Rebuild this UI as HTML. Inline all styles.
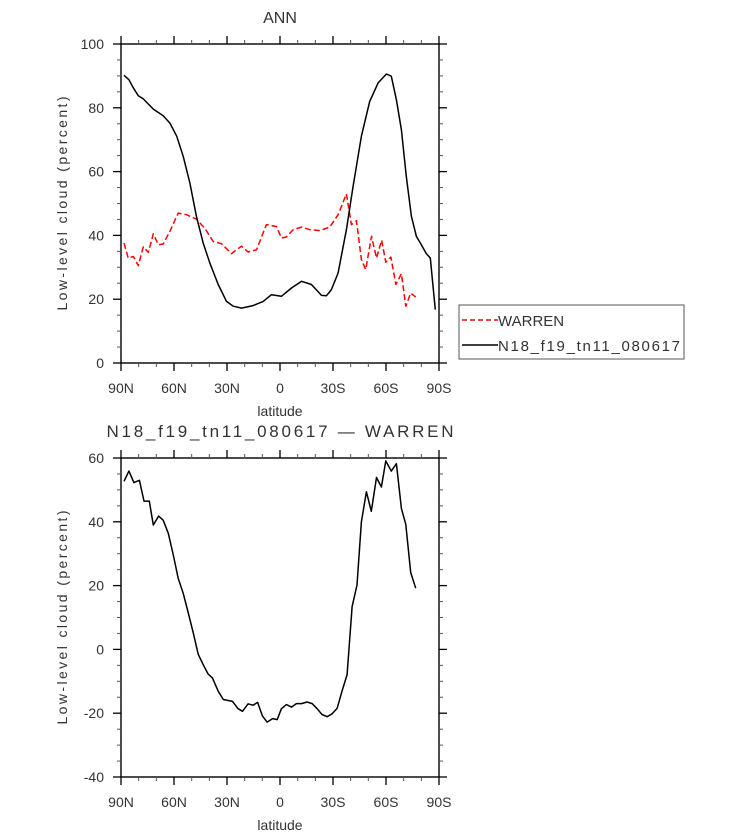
<!DOCTYPE html>
<html><head><meta charset="utf-8">
<style>
html,body{margin:0;padding:0;background:#fff;}
svg{display:block;font-family:"Liberation Sans",sans-serif;}
</style></head>
<body>
<svg id="chart" width="733" height="835" viewBox="0 0 733 835">
<g id="top"></g>
<g id="bot"></g>
</svg>
<script>
// ---- data ----
const xTickLabels = ["90N","60N","30N","0","30S","60S","90S"];
const xTickValues = [90,60,30,0,-30,-60,-90];
const topYTicks = [0,20,40,60,80,100];
const botYTicks = [-40,-20,0,20,40,60];

const modelLat = [88.3,85.5,83,80.2,77.4,71.7,66.1,62.3,58.5,54.8,51,47.3,43.5,39.7,35,30.3,26.5,21.8,15.2,9.5,4.8,-0.8,-6.5,-12.2,-17.8,-23.5,-26.3,-29.1,-32.9,-37.6,-41.4,-46.1,-50.8,-55.5,-60.2,-63,-65.9,-68.7,-71.5,-74.4,-77.2,-80,-82.8,-85.1,-87.9];
const modelVal = [90.2,88.8,86.2,83.8,82.8,79.6,77.5,75.2,71.1,64.8,56.4,46,37.6,31.3,24.6,19.3,17.8,17.2,18,19.3,21.4,20.9,23.5,25.6,24.6,21.2,21.1,23,28.2,41.8,55.4,71.1,82,87.8,90.6,89.9,82.5,73.1,58.5,46,39.7,37.1,34.3,32.9,16.7];

const obsLat = [88.3,85.9,83,80.2,77.4,74.5,71.7,68.9,66.1,62.3,57.6,52.9,47.3,42.6,37.8,33.1,27.5,21.8,18.1,13.3,7.7,2,-0.8,-3.6,-7.4,-12.2,-16.9,-22.5,-28.2,-32.9,-37.6,-40.4,-43.3,-46.1,-48.5,-51.8,-54.6,-57.5,-59.9,-62.8,-65.6,-68.7,-71.2,-74,-76.8];
const obsVal = [37.6,32.9,33.4,30.5,36.4,34.7,40.5,37.1,37.3,41.3,47,46.5,45.1,42.3,38.1,37.4,34.3,36.6,34.8,35.5,43.4,42.8,39.2,39.5,41.8,42.6,41.8,41.5,42.6,46.5,53,43.4,44.6,32.4,29.3,39.7,32.9,38.5,31.6,33.2,24.6,28,17.8,21.9,20.7];

const diffLat = [88.3,85.5,82.7,79.6,77,74,71.7,68.7,66.1,63.2,60.4,57.6,54.8,51.9,49.1,46.3,43.5,40.7,38.2,35,32.1,26.9,23.7,21.2,18.1,15.2,12.7,9.9,7.3,4.2,1.6,-0.8,-3.6,-6.5,-9.3,-12.2,-15.3,-18.2,-21,-23.8,-26.7,-29.5,-32.3,-35.1,-38,-40.8,-43.6,-46.1,-48.9,-51.7,-54.6,-57.4,-59.9,-63,-65.9,-68.7,-71.2,-74,-76.8];
const diffVal = [52.7,55.9,52.3,53,46.5,46.5,39,41.8,40.5,36.4,29.6,22.3,17.6,11.4,5.1,-1.5,-4.8,-7.7,-9,-13.1,-15.7,-16.3,-18.6,-19.4,-17.1,-17.5,-16.6,-20.9,-22.8,-21.7,-22,-18.6,-17.3,-18.1,-17,-17,-16.5,-17,-18.6,-20.4,-21.1,-20.2,-18.5,-13.1,-7.9,13.4,20.2,40,49.4,43.3,53.9,50.9,59.1,55.9,58.2,44.2,39.2,24.1,19.2];

const NS = "http://www.w3.org/2000/svg";
function mk(parent, tag, attrs){ const e=document.createElementNS(NS,tag); for(const k in attrs) e.setAttribute(k,attrs[k]); parent.appendChild(e); return e; }

function panel(g, top, bottom, ymin, ymax, yTicks, minorStep){
  const L=121, R=439;
  const xs = lat => L + (90-lat)*(R-L)/180;
  const ys = v => bottom - (v-ymin)*(bottom-top)/(ymax-ymin);
  const frame = mk(g,'rect',{x:L,y:top,width:R-L,height:bottom-top,fill:'none',stroke:'#000','stroke-width':1.4});
  
  
  for(let lat=90; lat>=-90; lat-=10){
    const major = lat%30===0;
    const len = major?8:4;
    const x = xs(lat);
    const t1 = mk(g,'line',{x1:x,x2:x,y1:bottom,y2:bottom+len,stroke:major?'#000':'#555','stroke-width':major?1.3:1});
    
    
    const t2 = mk(g,'line',{x1:x,x2:x,y1:top,y2:top-len,stroke:major?'#000':'#555','stroke-width':major?1.3:1});
    
    
  }
  for(let v=ymin; v<=ymax+0.001; v+=minorStep){
    const major = yTicks.indexOf(v)>=0;
    const len = major?8:4;
    const y = ys(v);
    const t1 = mk(g,'line',{x1:L,x2:L-len,y1:y,y2:y,stroke:major?'#000':'#555','stroke-width':major?1.3:1});
    
    
    const t2 = mk(g,'line',{x1:R,x2:R+len,y1:y,y2:y,stroke:major?'#000':'#555','stroke-width':major?1.3:1});
    
    
  }
  xTickValues.forEach((lat,i)=>{
    const t = mk(g,'text',{x:xs(lat),y:bottom+30,'text-anchor':'middle','font-size':14,fill:'#333'});
    t.textContent = xTickLabels[i];
    
    
  });
  yTicks.forEach(v=>{
    const t = mk(g,'text',{x:104,y:ys(v)+5,'text-anchor':'end','font-size':14,fill:'#333'});
    t.textContent = String(v);
    
    
  });
  const xt = mk(g,'text',{x:280,y:bottom+53,'text-anchor':'middle','font-size':14,fill:'#333'});
  xt.textContent='latitude';
  
  
  const cy=(top+bottom)/2;
  const yt = mk(g,'text',{x:67,y:cy,'text-anchor':'middle','font-size':14,fill:'#333',textLength:214,lengthAdjust:'spacing',transform:`rotate(-90 67 ${cy})`});
  yt.textContent='Low-level cloud (percent)';
  
  
  return {xs,ys};
}
function line(g, s, lats, vals, color, dash, name){
  const d = lats.map((lat,i)=>(i?'L':'M')+s.xs(lat).toFixed(1)+','+s.ys(vals[i]).toFixed(1)).join(' ');
  const p = mk(g,'path',{d:d,fill:'none',stroke:color,'stroke-width':1.5,'stroke-linejoin':'round'});
  if(dash) p.setAttribute('stroke-dasharray',dash);
  
  
}

const gt = document.getElementById('top');
const s1 = panel(gt, 44, 363, 0, 100, topYTicks, 5);
line(gt, s1, obsLat, obsVal, '#f00', '6,3', 'warren-line');
line(gt, s1, modelLat, modelVal, '#000', null, 'model-line');
const t1 = mk(gt,'text',{x:280,y:23,'text-anchor':'middle','font-size':16,fill:'#333'});
t1.textContent='ANN';



const lg = mk(gt,'g',{});


mk(lg,'rect',{x:459,y:305,width:225,height:54,fill:'#fff',stroke:'#555','stroke-width':1});
const le1 = mk(lg,'line',{x1:462,x2:498,y1:320,y2:320,stroke:'#f00','stroke-width':1.5,'stroke-dasharray':'5,3'});


const lt1 = mk(lg,'text',{x:498,y:326,'font-size':15,fill:'#333'}); lt1.textContent='WARREN';


const le2 = mk(lg,'line',{x1:462,x2:498,y1:345,y2:345,stroke:'#000','stroke-width':1.5});


const lt2 = mk(lg,'text',{x:498,y:351,'font-size':15,fill:'#333',textLength:182}); lt2.textContent='N18_f19_tn11_080617';



const gb = document.getElementById('bot');
const s2 = panel(gb, 458, 777, -40, 60, botYTicks, 5);
line(gb, s2, diffLat, diffVal, '#000', null, 'difference-line');
const t2 = mk(gb,'text',{x:280,y:437,'text-anchor':'middle','font-size':17,fill:'#333',textLength:347});
t2.textContent='N18_f19_tn11_080617 \u2014 WARREN';


</script>
</body></html>
